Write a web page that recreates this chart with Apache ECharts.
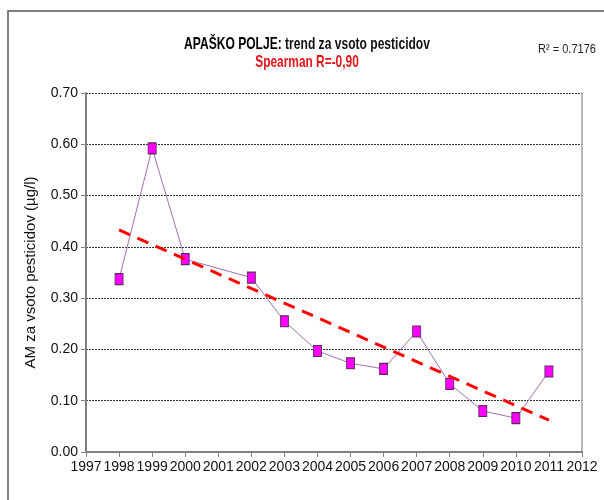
<!DOCTYPE html>
<html><head><meta charset="utf-8">
<script src="https://cdn.jsdelivr.net/npm/echarts@6/dist/echarts.min.js"></script>
<style>html,body{margin:0;padding:0;background:#fff}#c{width:604px;height:500px}</style>
</head><body><div id="c"></div>
<script>
var years = [1998, 1999, 2000, 2002, 2003, 2004, 2005, 2006, 2007, 2008, 2009, 2010, 2011];
var values = [0.337, 0.592, 0.376, 0.340, 0.255, 0.197, 0.173, 0.162, 0.235, 0.133, 0.080, 0.066, 0.157];
var trendYears = [1998, 2011];
var trendValues = [0.433, 0.062];
var titleMain = 'APAŠKO POLJE: ';
var titleRest = 'trend za vsoto pesticidov';
var subtitle = 'Spearman R=-0,90';
var r2Text = 'R² = 0.7176';
var yName = 'AM za vsoto pesticidov (µg/l)';

var FONT = '"Liberation Sans",Arial,sans-serif';
var chart = echarts.init(document.getElementById('c'), null, {renderer: 'canvas'});
chart.setOption({
  animation: false,
  backgroundColor: '#fff',
  grid: {left: 86, right: 22, top: 93, bottom: 48},
  graphic: [
    {type: 'polyline', shape: {points: [[8, 500], [8, 11], [604, 11]]}, style: {stroke: '#555', lineWidth: 1.5, fill: null}},
    {type: 'text', x: 307, y: 36, scaleX: 0.71, style: {
      rich: {a: {fontFamily: FONT, fontSize: 17, fontWeight: 'bold', fill: '#000'},
             b: {fontFamily: FONT, fontSize: 17, fontWeight: 'bold', fill: '#111'}},
      text: '{a|' + titleMain + '}{b|' + titleRest + '}', align: 'center'}},
    {type: 'text', x: 307, y: 54, scaleX: 0.7, style: {text: subtitle, fontFamily: FONT, fontSize: 17, fontWeight: 'bold', fill: '#e8141c', align: 'center'}},
    {type: 'text', x: 596, y: 43, scaleX: 0.85, style: {text: r2Text, fontFamily: FONT, fontSize: 13, fill: '#222', align: 'right'}}
  ],
  xAxis: {
    type: 'value', min: 1997, max: 2012, interval: 1,
    axisLine: {lineStyle: {color: '#808080', width: 2}},
    axisTick: {show: true, length: 5, lineStyle: {color: '#808080'}},
    axisLabel: {color: '#111', fontFamily: FONT, fontSize: 14, margin: 8, formatter: function (v) { return String(v); }},
    splitLine: {show: false}
  },
  yAxis: [{
    type: 'value', min: 0, max: 0.7, interval: 0.1,
    name: yName, nameLocation: 'middle', nameGap: 48, nameRotate: 90,
    nameTextStyle: {fontFamily: FONT, fontSize: 15, color: '#111'},
    axisLine: {show: true, lineStyle: {color: '#808080', width: 2}},
    axisTick: {show: true, length: 5, lineStyle: {color: '#808080'}},
    axisLabel: {color: '#111', fontFamily: FONT, fontSize: 14, margin: 8, formatter: function (v) { return v.toFixed(2); }},
    splitLine: {show: true, lineStyle: {color: '#333', type: [2, 1], width: 1}}
  }, {
    type: 'value', min: 0, max: 0.7, interval: 0.1, position: 'right',
    axisLine: {show: true, lineStyle: {color: '#a0a0a0', width: 1.5}},
    axisTick: {show: false}, axisLabel: {show: false}, splitLine: {show: false}
  }],
  series: [{
    type: 'line',
    data: years.map(function (y, i) { return [y, values[i]]; }),
    symbol: 'rect', symbolSize: [8, 11],
    itemStyle: {color: '#ff00ff', borderColor: '#5a2a5a', borderWidth: 1},
    lineStyle: {color: '#a070b0', width: 1},
    z: 3
  }, {
    type: 'line',
    data: trendYears.map(function (y, i) { return [y, trendValues[i]]; }),
    symbol: 'none',
    lineStyle: {color: '#ff0000', width: 3, type: [12, 8]},
    z: 4
  }]
});
</script></body></html>
